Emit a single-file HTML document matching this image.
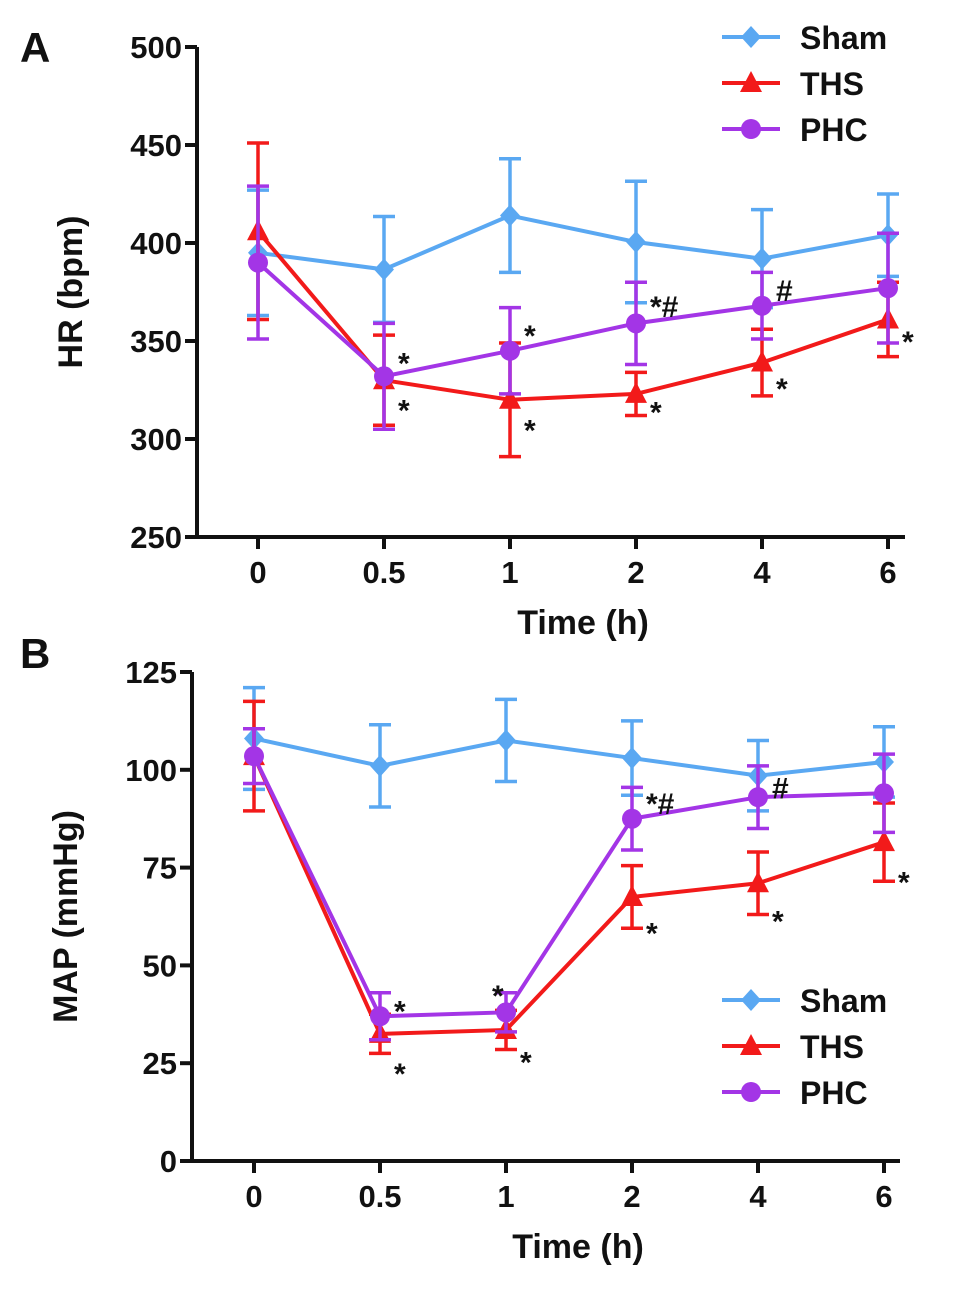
<!DOCTYPE html>
<html><head><meta charset="utf-8"><style>
body{margin:0;background:#fff;}
svg text{font-family:"Liberation Sans",Arial,sans-serif;font-weight:bold;fill:#111;}
</style></head><body>
<svg id="chart" width="969" height="1284" viewBox="0 0 969 1284" xmlns="http://www.w3.org/2000/svg"></svg>
<script>
const categories=["0","0.5","1","2","4","6"];
const hrSham=[395,386.5,414,400.5,392,404];
const hrShamErr=[32,27,29,31,25,21];
const hrThs=[406,330,320,323,339,361];
const hrThsErr=[45,23,29,11,17,19];
const hrPhc=[390,332,345,359,368,377];
const hrPhcErr=[39,27,22,21,17,28];
const hrTicks=[250,300,350,400,450,500];
const mapSham=[108,101,107.5,103,98.5,102];
const mapShamErr=[13,10.5,10.5,9.5,9,9];
const mapThs=[103.5,32.5,33.5,67.5,71,81.5];
const mapThsErr=[14,5,5,8,8,10];
const mapPhc=[103.5,37,38,87.5,93,94];
const mapPhcErr=[7,6,5,8,8,10];
const mapTicks=[0,25,50,75,100,125];
// annotations: [category index, value, label, dx, dy]
const hrNotes=[[1,342,"*",14,0],[1,318,"*",14,0],[2,356,"*",14,0],[2,308,"*",14,0],[3,371,"*#",14,0],[3,317,"*",14,0],[4,379,"#",14,0],[4,329,"*",14,0],[5,353,"*",14,0]];
const mapNotes=[[1,40,"*",14,0],[1,24,"*",14,0],[2,44,"*",-14,0],[2,27,"*",14,0],[3,93,"*#",14,0],[3,60,"*",14,0],[4,97,"#",14,0],[4,63,"*",14,0],[5,73,"*",14,0]];

const svg=document.getElementById('chart');
const NS="http://www.w3.org/2000/svg";
function mk(tag,attrs,parent){const e=document.createElementNS(NS,tag);for(const k in attrs)e.setAttribute(k,attrs[k]);(parent||svg).appendChild(e);return e;}
const COL={sham:"#5aa8f2",ths:"#f21a1a",phc:"#a335e6"};

function panel(cfg){
  const g=mk('g',{});
  
  
  const ymin=cfg.ticks[0],ymax=cfg.ticks[cfg.ticks.length-1];
  const y=v=>cfg.y0-(v-ymin)/(ymax-ymin)*(cfg.y0-cfg.y1);
  const x=i=>cfg.xs+i*cfg.dx;
  const ya=mk('line',{x1:cfg.ax,y1:cfg.y1,x2:cfg.ax,y2:cfg.y0,stroke:"#111","stroke-width":4},g);
  
  const xa=mk('line',{x1:cfg.ax,y1:cfg.y0,x2:cfg.xend,y2:cfg.y0,stroke:"#111","stroke-width":4},g);
  
  cfg.ticks.forEach(t=>{
    mk('line',{x1:cfg.ax-12,y1:y(t),x2:cfg.ax,y2:y(t),stroke:"#111","stroke-width":4},g);
    const tx=mk('text',{x:cfg.ax-15,y:y(t)+11,"text-anchor":"end","font-size":31},g);
    tx.textContent=t;
    
  });
  categories.forEach((c,i)=>{
    mk('line',{x1:x(i),y1:cfg.y0,x2:x(i),y2:cfg.y0+12,stroke:"#111","stroke-width":4},g);
    const tx=mk('text',{x:x(i),y:cfg.y0+46,"text-anchor":"middle","font-size":31},g);
    tx.textContent=c;
    
  });
  const xt=mk('text',{x:(cfg.ax+cfg.xend)/2+32,y:cfg.y0+97,"text-anchor":"middle","font-size":34},g);
  xt.textContent="Time (h)";
  
  const yt=mk('text',{x:0,y:0,"text-anchor":"middle","font-size":34,transform:`translate(${cfg.ax-115},${(cfg.y0+cfg.y1)/2}) rotate(-90)`},g);
  yt.textContent=cfg.ytitle;
  
  const pl=mk('text',{x:cfg.lx,y:cfg.ly,"font-size":42},g);
  pl.textContent=cfg.letter;
  
  cfg.series.forEach(s=>{
    const sg=mk('g',{},g);
    
    s.vals.forEach((v,i)=>{
      const e=s.err[i];
      const eb=mk('path',{d:`M${x(i)},${y(v-e)}V${y(v+e)}M${x(i)-11},${y(v+e)}H${x(i)+11}M${x(i)-11},${y(v-e)}H${x(i)+11}`,stroke:COL[s.key],"stroke-width":3.5,fill:"none"},sg);
      
    });
    const ln=mk('polyline',{points:s.vals.map((v,i)=>x(i)+","+y(v)).join(" "),stroke:COL[s.key],"stroke-width":4,fill:"none"},sg);
    
    s.vals.forEach((v,i)=>{
      const m=marker(s.key,x(i),y(v),sg);
      
    });
  });
  cfg.notes.forEach(n=>{
    const t=mk('text',{x:x(n[0])+n[3],y:y(n[1])+17,"font-size":30},g);
    t.textContent=n[2];
    
  });
  const lg=mk('g',{},g);
  
  [["sham","Sham"],["ths","THS"],["phc","PHC"]].forEach((l,k)=>{
    const yy=cfg.legY+k*46;
    const eg=mk('g',{},lg);
    
    mk('line',{x1:cfg.legX,y1:yy,x2:cfg.legX+58,y2:yy,stroke:COL[l[0]],"stroke-width":4},eg);
    marker(l[0],cfg.legX+29,yy,eg);
    const t=mk('text',{x:cfg.legX+78,y:yy+12,"font-size":32},eg);
    t.textContent=l[1];
  });
}
function marker(k,cx,cy,p){
  if(k==="sham")return mk('path',{d:`M${cx},${cy-11}L${cx+10},${cy}L${cx},${cy+11}L${cx-10},${cy}Z`,fill:COL.sham},p);
  if(k==="ths")return mk('path',{d:`M${cx},${cy-12}L${cx+11},${cy+9}L${cx-11},${cy+9}Z`,fill:COL.ths},p);
  return mk('circle',{cx:cx,cy:cy,r:10,fill:COL.phc},p);
}
panel({name:'panel-a-hr',ticks:hrTicks,y0:537,y1:47,ax:197,xend:905,xs:258,dx:126,ytitle:"HR (bpm)",letter:"A",lx:20,ly:62,legX:722,legY:37,
  series:[{key:"sham",vals:hrSham,err:hrShamErr},{key:"ths",vals:hrThs,err:hrThsErr},{key:"phc",vals:hrPhc,err:hrPhcErr}],notes:hrNotes});
panel({name:'panel-b-map',ticks:mapTicks,y0:1161,y1:672,ax:192,xend:900,xs:254,dx:126,ytitle:"MAP (mmHg)",letter:"B",lx:20,ly:668,legX:722,legY:1000,
  series:[{key:"sham",vals:mapSham,err:mapShamErr},{key:"ths",vals:mapThs,err:mapThsErr},{key:"phc",vals:mapPhc,err:mapPhcErr}],notes:mapNotes});
</script>
</body></html>
